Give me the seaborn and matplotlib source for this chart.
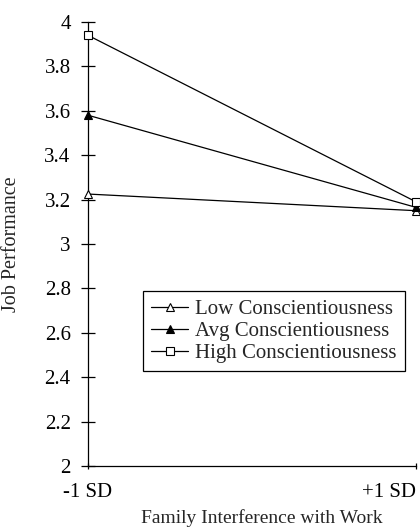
import numpy as np
import pandas as pd
import seaborn as sns
import matplotlib.pyplot as plt

# 数据
fiw_levels = ["-1 SD", "+1 SD"]
low_consc = [3.225, 3.15]
avg_consc = [3.58, 3.165]
high_consc = [3.94, 3.19]

series = {
    "Low Conscientiousness": (low_consc, "^", "white"),
    "Avg Conscientiousness": (avg_consc, "^", "black"),
    "High Conscientiousness": (high_consc, "s", "white"),
}

sns.set_style("ticks")
plt.rcParams["font.family"] = ["Liberation Serif", "DejaVu Serif"]

fig = plt.figure(figsize=(4.2, 5.3), dpi=100)
ax = fig.add_axes([88 / 420, 64 / 530, 328 / 420, 444 / 530])

xpos = np.arange(len(fiw_levels))
for name, (vals, mk, fc) in series.items():
    df = pd.DataFrame({"x": xpos, "y": vals})
    sns.lineplot(data=df, x="x", y="y", ax=ax, color="black", linewidth=0.9,
                 marker=mk, markersize=6, markerfacecolor=fc,
                 markeredgecolor="black", markeredgewidth=0.8, label=name,
                 clip_on=False, zorder=3)

ax.set_xlim(0, 1)
ax.set_ylim(2, 4)
yt = np.round(np.arange(2, 4.01, 0.2), 1)
ax.set_yticks(yt)
ax.set_yticklabels([f"{v:g}" for v in yt])
ax.set_xticks(xpos)
ax.set_xticklabels(fiw_levels)
ax.get_xticklabels()[1].set_ha("right")

for s in ["top", "right"]:
    ax.spines[s].set_visible(False)
for s in ["left", "bottom"]:
    ax.spines[s].set_linewidth(0.9)
    ax.spines[s].set_color("black")

ax.tick_params(axis="y", direction="inout", length=10, width=0.9,
               labelsize=15, pad=7.5, colors="black")
ax.tick_params(axis="x", direction="inout", length=5, width=0.9,
               labelsize=15, pad=10, colors="black")

ax.set_xlabel("Family Interference with Work", fontsize=14)
ax.xaxis.set_label_coords(0.53, -0.097)
ax.set_ylabel("Job Performance", fontsize=14.5)
ax.yaxis.set_label_coords(-0.205, 0.5)

leg = ax.legend(loc="upper left", bbox_to_anchor=(55 / 328, 175 / 444),
                frameon=True, fancybox=False, fontsize=15, handlelength=1.75,
                handletextpad=0.35, borderpad=0.4, labelspacing=0.12,
                borderaxespad=0)
leg.get_frame().set_edgecolor("black")
leg.get_frame().set_linewidth(0.9)
leg.get_frame().set_alpha(1)

fig.savefig("out.png", dpi=100)
plt.close(fig)
